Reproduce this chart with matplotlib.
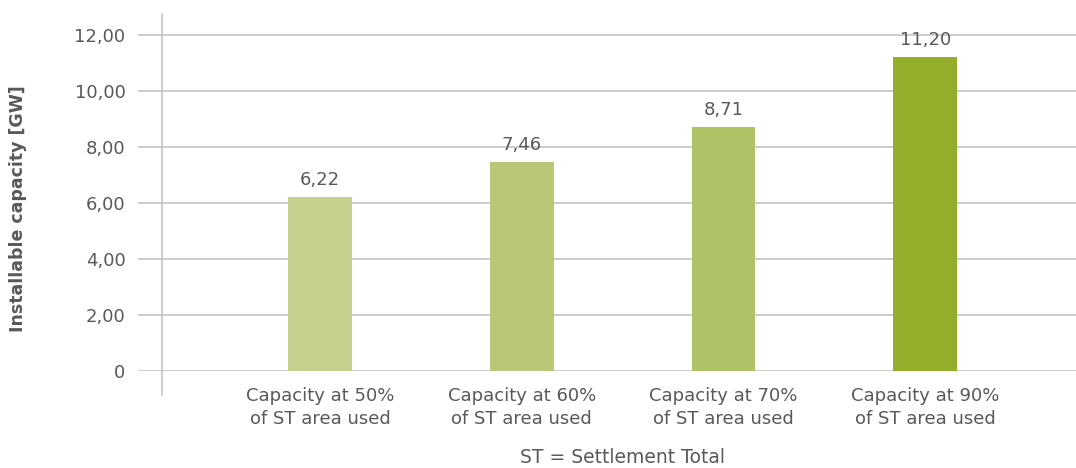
import matplotlib
matplotlib.use("Agg")
import matplotlib.pyplot as plt

plt.rcParams['font.family'] = ['DejaVu Sans']

categories = [
    "Capacity at 50%\nof ST area used",
    "Capacity at 60%\nof ST area used",
    "Capacity at 70%\nof ST area used",
    "Capacity at 90%\nof ST area used",
]
values = [6.22, 7.46, 8.71, 11.20]
value_labels = ["6,22", "7,46", "8,71", "11,20"]
bar_colors = ["#c4d18e", "#bac776", "#afc266", "#94ae2b"]
y_ticks = [0, 2, 4, 6, 8, 10, 12]
y_tick_labels = ["0", "2,00", "4,00", "6,00", "8,00", "10,00", "12,00"]

text_color = "#595959"
grid_color = "#bfbfbf"

fig = plt.figure(figsize=(10.76, 4.68), dpi=100)
ax = fig.add_axes([138 / 1076, 1 - 371 / 468, 938 / 1076, (371 - 14) / 468])

x = list(range(len(categories)))
ax.bar(x, values, width=0.317, color=bar_colors, zorder=3)

ax.set_xlim(-0.903, 3.748)
ax.set_ylim(0, 12.75)

for t in y_ticks:
    ax.axhline(t, color=grid_color, lw=1.1, zorder=1)

# vertical value axis line, extending slightly below zero
ax.axvline(-0.783, ymin=-24 / 357, ymax=1, color=grid_color, lw=1.1,
           clip_on=False, zorder=2)

for s in ax.spines.values():
    s.set_visible(False)

ax.set_yticks(y_ticks)
ax.set_yticklabels(y_tick_labels)
ax.set_xticks(x)
ax.set_xticklabels(categories, linespacing=1.35)
ax.tick_params(axis='y', length=0, pad=9, labelsize=13, labelcolor=text_color)
ax.tick_params(axis='x', length=0, pad=11.5, labelsize=13, labelcolor=text_color)

for xi, v, lab in zip(x, values, value_labels):
    ax.annotate(lab, (xi, v), xytext=(0, 6), textcoords='offset points',
                ha='center', va='bottom', fontsize=13, color=text_color)

fig.text(18 / 1076, 1 - 209 / 468, "Installable capacity [GW]", rotation=90,
         ha='center', va='center', fontsize=12.5, fontweight='bold', color=text_color)
fig.text(622 / 1076, 1 - 463 / 468, "ST = Settlement Total",
         ha='center', va='baseline', fontsize=13.5, color=text_color)

fig.savefig("out.png", dpi=100)
